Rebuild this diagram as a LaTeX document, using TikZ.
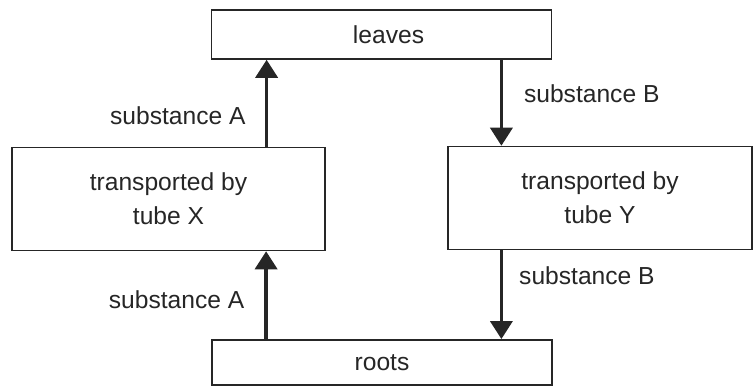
\documentclass[tikz,border=0pt]{standalone}
\usepackage{fontspec}
\setmainfont{Liberation Sans}
\usepackage{tikz}
\usetikzlibrary{positioning,arrows.meta,calc}

\begin{document}
\begin{tikzpicture}[
    x=0.025cm, y=-0.025cm,
    font=\fontsize{17.5pt}{24pt}\selectfont,
    text=black!85,
    organ/.style={
        draw=black!85,
        minimum width=#1,
        minimum height=1.18cm,
        align=center,
        line width=1.2pt
    },
    tube/.style={
        draw=black!85,
        minimum width=#1,
        minimum height=2.57cm,
        align=center,
        line width=1.2pt
    },
    flow/.style={-{Triangle[length=0.45cm,width=0.55cm]}, draw=black!85, line width=2.6pt},
    tag/.style={inner sep=0pt}
]
\useasboundingbox (0,0) rectangle (753,389);

%-----------------------------------
% Organs
%-----------------------------------
\node[organ=8.5cm, minimum height=1.22cm] (leaves) at (381.5,34.5) {\hspace*{0.35cm}leaves};
\node[organ=8.5cm, minimum height=1.13cm] (roots) at (382,362.5) {roots};

%-----------------------------------
% Tubes
%-----------------------------------
\node[tube=7.82cm] (tubeX) at (168.5,199) {transported by\\tube X};
\node[tube=7.6cm] (tubeY) at (600,198) {transported by\\tube Y};

%-----------------------------------
% Arrows
%-----------------------------------
\coordinate (upA) at ($(leaves.south west)+(56,0)$);
\coordinate (lowA) at ($(roots.north west)+(55,0)$);
\coordinate (dnB) at ($(leaves.south east)+(-51,0)$);

\draw[flow] (upA |- tubeX.north) -- node[tag, pos=0.36, anchor=east, xshift=-0.48cm] (lblA1) {substance A} (upA);
\draw[flow] (lowA) -- node[tag, pos=0.45, anchor=east, xshift=-0.5cm] (lblA2) {substance A} (lowA |- tubeX.south);

\draw[flow] (dnB) -- node[tag, pos=0.39, anchor=west, xshift=0.52cm] (lblB1) {substance B} (dnB |- tubeY.north);
\draw[flow] (dnB |- tubeY.south) -- node[tag, pos=0.29, anchor=west, xshift=0.4cm] (lblB2) {substance B} (dnB |- roots.north);

\end{tikzpicture}
\end{document}
